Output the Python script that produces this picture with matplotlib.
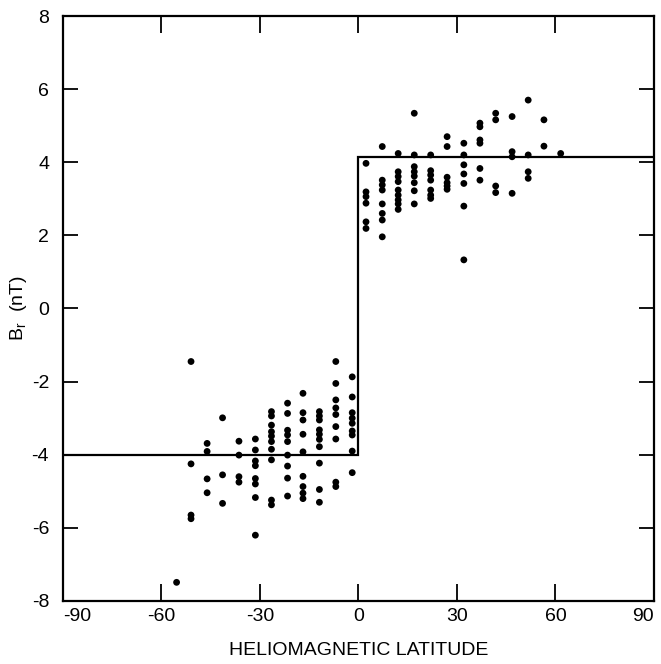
import numpy as np
import matplotlib
matplotlib.use("Agg")
import matplotlib.pyplot as plt

plt.rcParams["font.family"] = ["Liberation Sans", "DejaVu Sans"]
plt.rcParams["axes.unicode_minus"] = False

# Radial field samples grouped by heliomagnetic latitude bin (deg) -> Br (nT)
lat_bins = [-55.4, -51.0, -46.1, -41.4, -36.4, -31.4, -26.5, -21.6, -16.9,
            -11.9, -6.9, -1.9, 2.3, 7.25, 12.1, 17.0, 22.0, 27.0, 32.1,
            37.0, 41.8, 46.8, 51.7, 56.5, 61.6]
br_values = [
    [-7.49],
    [-1.45, -4.25, -5.65, -5.75],
    [-3.69, -3.91, -4.66, -5.04],
    [-2.99, -4.55, -5.33],
    [-3.63, -4.01, -4.60, -4.75],
    [-3.57, -3.87, -4.17, -4.30, -4.65, -4.80, -5.17, -6.20],
    [-2.82, -2.94, -3.19, -3.37, -3.49, -3.64, -3.85, -4.14, -5.24, -5.37],
    [-2.59, -2.87, -3.33, -3.46, -3.64, -4.01, -4.31, -4.64, -5.13],
    [-2.32, -2.85, -3.05, -3.44, -3.92, -4.59, -4.87, -5.05, -5.20],
    [-2.82, -2.94, -3.05, -3.32, -3.44, -3.58, -3.78, -4.23, -4.95, -5.30],
    [-1.45, -2.05, -2.50, -2.72, -2.90, -3.23, -3.57, -4.75, -4.87],
    [-1.87, -2.42, -2.85, -3.00, -3.14, -3.35, -3.46, -3.90, -4.49],
    [3.97, 3.19, 3.06, 2.88, 2.37, 2.19],
    [4.43, 3.51, 3.38, 3.24, 2.86, 2.60, 2.42, 1.96],
    [4.24, 3.74, 3.61, 3.47, 3.24, 3.10, 2.97, 2.86, 2.71],
    [5.34, 4.20, 3.88, 3.74, 3.62, 3.44, 3.22, 2.86],
    [4.20, 3.77, 3.65, 3.51, 3.24, 3.10, 3.01],
    [4.70, 4.43, 3.59, 3.44, 3.35, 3.26],
    [4.52, 4.20, 3.93, 3.68, 3.42, 2.80, 1.33],
    [5.07, 4.97, 4.61, 4.52, 3.83, 3.51],
    [5.34, 5.16, 3.35, 3.17],
    [5.25, 4.29, 4.15, 3.15],
    [5.70, 4.20, 3.74, 3.56],
    [5.16, 4.44],
    [4.24],
]

# Two-sector model: constant field of opposite sign in each hemisphere
step_lat = [-90, 0, 0, 90]
step_br = [-4.0, -4.0, 4.15, 4.15]

x_ticks = [-90, -60, -30, 0, 30, 60, 90]
y_ticks = [-8, -6, -4, -2, 0, 2, 4, 6, 8]

lat_pts = np.concatenate([[lat] * len(v) for lat, v in zip(lat_bins, br_values)])
br_pts = np.concatenate(br_values)

fig = plt.figure(figsize=(6.61, 6.64), dpi=100)
ax = fig.add_axes([0.0953, 0.0949, 0.894, 0.881])

ax.plot(step_lat, step_br, color="black", linewidth=1.6, solid_joinstyle="miter")
ax.scatter(lat_pts, br_pts, s=24, color="black", edgecolors="none", zorder=3)

ax.set_xlim(-90, 90)
ax.set_ylim(-8, 8)
ax.set_xticks(x_ticks)
ax.set_yticks(y_ticks)
ax.tick_params(axis="both", direction="in", top=True, right=True,
               width=1.3, labelsize=14)
ax.tick_params(axis="x", length=12, pad=5)
ax.tick_params(axis="y", length=11, pad=10)
for s in ax.spines.values():
    s.set_linewidth(1.6)

# keep the end labels inside the frame
xlabels = ax.get_xticklabels()
xlabels[0].set_horizontalalignment("left")
xlabels[-1].set_horizontalalignment("right")

ax.set_xlabel("HELIOMAGNETIC LATITUDE", fontsize=14, labelpad=12)
ax.set_ylabel(r"B$_\mathregular{r}$  (nT)", fontsize=14, labelpad=2)

fig.savefig("out.png", dpi=100)
